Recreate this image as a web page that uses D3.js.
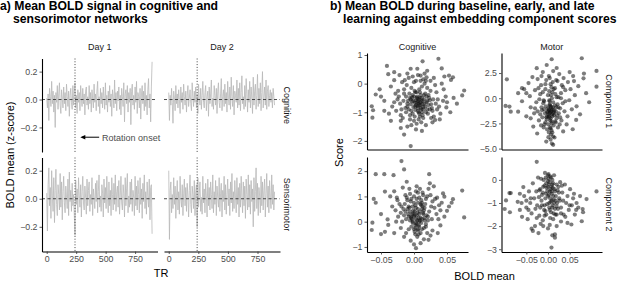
<!DOCTYPE html>
<html>
<head>
<meta charset="utf-8">
<script src="https://cdn.jsdelivr.net/npm/d3@7"></script>
<style>
  body { margin: 0; background: #fff; }
  text { font-family: "Liberation Sans", Arial, sans-serif; }
</style>
</head>
<body>
<svg width="617" height="286"></svg>
<script>
// ---- panel a data: mean BOLD per TR (read every 6 TR) ----
const trStep = 6
const cogDay1 = [0.01,-0.06,0.04,-0.15,0.08,0.02,-0.05,0.13,-0.03,0.06,-0.09,0.03,-0.2,0.05,-0.02,0.1,-0.07,0.04,0.12,-0.04,
  -0.1,0.07,0.01,-0.06,0.09,-0.03,0.05,-0.08,0.11,0.02,-0.05,0.06,-0.12,0.03,0.08,-0.02,-0.07,0.1,-0.04,0.05,
  0.12,-0.06,0.03,-0.1,0.07,-0.02,0.05,-0.08,0.1,0.01,-0.05,0.08,-0.03,0.04,-0.11,0.06,0.09,-0.04,0.02,-0.07,
  0.1,-0.03,0.05,-0.09,0.07,0.0,-0.06,0.11,-0.02,0.04,-0.08,0.06,0.13,-0.05,0.02,-0.1,0.08,-0.03,0.05,-0.06,
  0.09,0.01,-0.07,0.12,-0.04,0.03,-0.09,0.06,-0.02,0.1,-0.05,0.04,-0.12,0.07,0.02,-0.06,0.14,-0.03,0.05,-0.08,
  0.06,-0.01,0.09,-0.07,0.03,-0.11,0.08,0.02,-0.05,0.12,-0.16,0.04,0.07,-0.03,0.1,-0.09,0.05,-0.02,0.08,-0.18,
  0.06,0.11,-0.04,0.03,-0.07,0.09,-0.02,0.13,-0.1,0.05,0.02,-0.06,0.08,-0.14,0.04,0.1,-0.03,0.06,-0.08,0.12,
  -0.05,0.03,-0.11,0.07,0.15,-0.06,0.04,-0.16,0.09,0.27]
const cogDay2 = [0.05,-0.15,0.03,-0.04,0.08,-0.02,-0.17,0.06,0.01,-0.08,0.1,-0.03,0.04,-0.06,0.07,0.0,-0.1,0.09,-0.02,0.05,
  -0.07,0.11,0.02,-0.04,0.06,-0.09,0.03,0.1,-0.05,0.01,0.07,-0.03,-0.08,0.12,0.02,-0.05,0.06,-0.02,0.09,-0.06,
  0.04,-0.1,0.11,0.0,-0.04,0.08,-0.07,0.03,0.13,-0.02,-0.06,0.05,0.1,-0.08,0.02,0.06,-0.12,0.09,-0.03,0.04,
  0.14,-0.05,0.01,-0.07,0.1,0.03,-0.04,0.08,-0.1,0.06,0.12,-0.02,-0.06,0.04,0.15,-0.08,0.02,0.07,-0.05,0.11,
  -0.03,0.05,-0.09,0.13,0.01,-0.04,0.09,-0.07,0.16,0.02,-0.05,0.1,-0.11,0.06,0.03,-0.02,0.14,-0.06,0.08,-0.04,
  0.12,-0.08,0.05,0.17,-0.03,0.02,-0.07,0.1,-0.05,0.15,0.04,-0.09,0.07,-0.02,0.13,-0.06,0.09,0.01,-0.1,0.16,
  -0.04,0.06,0.11,-0.07,0.03,0.18,-0.05,0.08,-0.03,0.12,-0.08,0.05,0.2,-0.06,0.02,0.09,-0.04,0.14,-0.07,0.06,
  0.1,-0.05,0.03,0.07,-0.02,0.05,-0.06,0.08,0.02,-0.04]
const smDay1 = [0.04,-0.23,0.1,0.22,-0.05,0.08,-0.14,0.2,0.02,-0.09,0.15,-0.17,0.06,0.21,-0.04,-0.12,0.1,0.03,-0.08,0.18,
  -0.06,0.12,-0.15,0.05,0.16,-0.03,-0.1,0.09,0.01,-0.07,0.14,-0.12,0.19,-0.02,0.06,-0.09,0.11,-0.05,0.03,-0.11,
  -0.26,0.13,-0.04,0.07,-0.1,0.15,0.02,-0.06,0.1,-0.13,0.05,0.16,-0.03,-0.08,0.09,0.01,-0.11,0.14,-0.05,0.06,
  0.12,-0.09,0.03,-0.04,0.15,-0.12,0.07,0.01,-0.07,0.11,-0.02,0.13,-0.1,0.05,0.17,-0.06,0.02,-0.09,0.1,0.04,
  -0.13,0.14,-0.03,0.08,-0.07,0.16,0.0,-0.1,0.12,-0.05,0.06,-0.12,0.15,0.03,-0.08,0.11,-0.04,0.17,-0.09,0.05,
  0.09,-0.06,0.13,-0.11,0.02,0.16,-0.03,-0.08,0.1,0.04,-0.13,0.15,-0.05,0.07,0.18,-0.1,0.02,-0.06,0.12,-0.04,
  0.14,-0.09,0.06,0.01,-0.12,0.16,-0.05,0.09,-0.08,0.13,0.03,-0.1,0.15,-0.04,0.07,-0.14,0.11,-0.02,0.17,-0.07,
  0.05,-0.11,0.12,0.02,-0.06,0.14,-0.15,0.08,0.1,-0.25]
const smDay2 = [0.2,-0.29,0.06,0.12,-0.1,0.03,-0.07,0.15,-0.04,0.09,-0.14,0.02,0.13,-0.08,0.05,-0.11,0.16,0.0,-0.06,0.1,
  -0.12,0.04,0.14,-0.05,0.08,-0.09,0.11,0.02,-0.13,0.06,0.17,-0.04,-0.1,0.09,0.03,-0.07,0.13,-0.12,0.05,0.1,
  -0.2,0.15,-0.06,0.04,0.12,-0.09,0.01,-0.11,0.16,-0.03,0.07,-0.1,0.11,0.02,-0.13,0.14,-0.05,0.08,-0.08,0.12,
  0.03,-0.07,0.17,-0.1,0.05,-0.04,0.13,-0.12,0.09,0.01,-0.06,0.15,-0.09,0.04,0.11,-0.13,0.06,-0.02,0.16,-0.08,
  0.1,-0.11,0.03,0.14,-0.05,0.07,-0.12,0.12,-0.03,0.18,-0.09,0.05,-0.07,0.13,0.02,-0.1,0.15,-0.04,0.08,-0.13,
  0.11,-0.06,0.16,0.01,-0.1,0.12,-0.05,0.09,-0.14,0.14,0.03,-0.08,0.17,-0.06,0.1,-0.11,0.13,-0.02,0.07,-0.2,
  0.15,-0.09,0.05,0.22,-0.07,0.11,-0.12,0.08,0.02,-0.1,0.16,-0.05,0.12,-0.08,0.06,0.14,-0.13,0.04,0.18,-0.06,
  0.09,-0.1,0.13,0.01,-0.07,0.17,-0.04,0.1,-0.08,0.05]

const days = ["Day 1", "Day 2"]
const networks = ["Cognitive", "Sensorimotor"]
const trTicks = [0, 250, 500, 750]
const boldTicks = [-0.2, 0, 0.2]
const onsetTR = 240

// ---- panel b data: [BOLD mean, score] ----
const scatterCols = ["Cognitive", "Motor"]
const scatterRows = ["Component 1", "Component 2"]
const cogComp1 = [[0.037,0.87],[0.013,0.78],[-0.041,0.62],[-0.005,0.52],[0.005,0.52],[0.042,0.53],[-0.039,0.33],[0.059,0.22],[0.056,0.13],[0.076,-0.24],[0.073,-0.41],[-0.064,-0.79],[-0.062,-0.93],[-0.063,-1.19],[-0.058,-0.38],[-0.005,-2.18],[-0.015,-1.78],[0.003,-1.6],[0.028,-1.35],[0.032,-1.27],[0.049,-0.83],
  [-0.05,-0.45],[-0.045,-0.6],[-0.052,-0.2],[-0.035,-0.1],[-0.03,0.12],[-0.028,-0.35],[-0.025,-0.55],[-0.033,-0.8],[-0.038,-1.05],[-0.02,-1.3],[-0.022,0.3],[-0.018,0.05],[-0.015,-0.2],[-0.012,-0.45],[-0.01,-0.7],[-0.008,-0.9],[-0.006,-1.1],[-0.004,-1.45],[-0.002,0.25],[0.0,0.05],[0.002,-0.3],[0.004,-0.5],[0.006,-0.62],[0.008,-0.75],[0.01,-0.85],[0.012,-1.0],[0.014,-1.2],[0.016,0.35],[0.018,0.1],[0.02,-0.15],[0.022,-0.4],[0.024,-0.58],[0.026,-0.72],[0.028,-0.95],[0.03,0.2],[0.032,-0.05],[0.034,-0.3],[0.036,-0.55],[0.038,-0.8],[0.04,-1.05],[0.042,0.0],[0.045,-0.2],[0.048,-0.45],[0.05,-0.65],[0.053,0.28],[0.055,-1.0],[0.06,-0.5],[0.065,-0.7],
  [-0.005,-0.55],[-0.003,-0.62],[0.001,-0.68],[0.003,-0.58],[0.007,-0.7],[0.009,-0.5],[0.011,-0.63],[0.005,-0.78],[-0.001,-0.82],[0.013,-0.72],[0.002,-0.92],[0.006,-0.95],[0.01,-0.4],[0.015,-0.55],[-0.007,-0.35],[-0.009,-0.6],[0.017,-0.8],[0.019,-0.65],[0.0,-0.45],[0.004,-0.3],[0.008,-0.2],[-0.004,-0.15],[0.012,-0.1],[-0.011,-0.05],[0.016,0.0],[0.02,-0.9],[-0.013,-0.85],[-0.016,-0.6],[0.023,-0.5],[0.021,-1.05],[-0.002,-1.05],[0.009,-1.15],[-0.006,-1.25],[0.011,-1.35],[0.004,-1.4],[0.018,-1.45],[-0.01,-1.5],[0.007,-1.25],[-0.019,-0.9],[-0.021,-0.7],[0.025,-0.25],[0.027,-0.85],[-0.024,-0.25],[0.014,0.15],[-0.008,0.2],[0.003,0.1],[0.019,0.22],[-0.014,0.12],[0.006,0.3],[-0.02,-1.1],[0.03,-1.15],[0.035,-0.9],[-0.03,-0.65],[-0.027,-0.95],[0.01,0.28],[0.001,-0.25],[-0.005,-0.72],[0.014,-0.9],[0.008,-1.05],[-0.002,-0.4],
  [0.002,-0.8],[0.006,-0.85],[0.01,-0.75],[0.013,-0.6],[0.008,-0.55],[0.004,-0.65],[-0.001,-0.6],[0.016,-0.7],[0.011,-0.9],[0.007,-1.0],[0.003,-0.75],[-0.004,-0.95],[0.018,-1.0],[0.015,-0.4],[0.009,-0.3],[0.005,-0.45],[-0.006,-0.5],[0.012,-0.5],[0.02,-0.6],[0.022,-0.75],[-0.01,-0.8],[-0.012,-1.0],[0.001,-1.15],[0.013,-1.1],[0.017,-0.35],[0.024,-0.9],[-0.015,-0.35],[0.0,-1.3],[0.026,-1.2],[-0.017,-1.2],[0.009,-0.65],[0.006,-0.52],[0.014,-0.82],[-0.003,-0.48],[0.019,-0.45],[0.029,-0.55],[-0.023,-0.45],[0.033,-0.7],[0.01,0.1],[0.025,0.1],[-0.01,0.35],[0.02,0.45],[-0.03,0.4],[0.046,0.25],[-0.045,-0.95],[0.044,-0.6],[0.039,-1.25],[-0.035,-1.3],[0.012,-1.65],[-0.02,-1.55]]
const cogComp2 = [[-0.019,2.4],[-0.058,1.88],[-0.045,1.88],[-0.031,1.84],[-0.015,2.07],[0.023,1.88],[0.073,1.23],[0.076,0.17],[-0.061,0.9],[-0.058,0.75],[-0.044,1.19],[-0.063,-0.04],[-0.064,-0.33],[-0.05,-0.49],[-0.044,-0.4],[-0.04,0.09],[-0.039,-0.13],[0.003,-1.05],[0.0,-0.9],[0.022,-0.72],[0.05,0.43],[0.059,0.89],[0.057,0.75],[0.044,1.12],[0.046,0.99],[0.024,1.52],[-0.011,1.58],
  [-0.03,1.2],[-0.026,0.95],[-0.022,0.7],[-0.028,0.45],[-0.033,0.6],[-0.024,0.2],[-0.02,-0.25],[-0.017,1.35],[-0.013,1.05],[-0.01,0.85],[-0.008,0.6],[-0.006,0.4],[-0.004,0.15],[-0.002,-0.05],[0.0,-0.3],[0.002,-0.5],[0.004,1.4],[0.006,1.15],[0.008,0.95],[0.01,0.7],[0.012,0.5],[0.014,0.3],[0.016,0.05],[0.018,-0.2],[0.02,-0.45],[0.022,1.3],[0.025,1.05],[0.028,0.8],[0.031,0.55],[0.034,0.3],[0.037,0.1],[0.04,-0.15],[0.03,1.4],[0.035,0.95],[0.038,0.65],[0.042,0.75],[0.046,0.2],[0.025,-0.55],[0.028,-0.35],[-0.015,-0.6],[-0.012,-0.45],[0.015,-0.7],[0.01,-0.85],[-0.005,-0.75],[0.005,-0.6],
  [-0.005,0.2],[-0.003,0.3],[0.001,0.25],[0.003,0.1],[0.005,0.35],[0.007,0.15],[0.009,0.05],[-0.001,0.45],[-0.007,0.55],[0.002,0.65],[0.006,0.75],[-0.004,0.9],[0.011,0.85],[0.013,0.6],[-0.009,0.3],[-0.012,0.1],[0.004,-0.1],[0.008,-0.2],[0.006,-0.35],[0.002,-0.15],[-0.002,0.0],[0.012,-0.3],[0.015,0.45],[0.017,0.7],[-0.014,0.7],[-0.016,0.5],[0.019,0.25],[0.021,0.05],[-0.018,0.0],[0.0,1.0],[0.003,1.2],[-0.006,1.1],[0.009,1.3],[0.014,1.05],[-0.011,0.95],[0.018,0.9],[0.001,-0.4],[0.007,-0.5],[-0.008,-0.3],[0.011,-0.05],[0.016,0.15],[-0.02,0.35],[0.023,0.4],[0.026,0.6],[-0.025,0.85],
  [0.0,0.2],[0.004,0.25],[0.008,0.3],[-0.003,0.1],[0.001,0.4],[0.006,0.5],[0.01,0.15],[-0.006,0.05],[0.003,-0.05],[0.007,-0.15],[0.012,0.1],[-0.002,0.6],[0.005,0.05],[0.009,0.4],[-0.008,0.2],[0.014,0.35],[0.002,-0.25],[0.006,-0.3],[0.01,-0.45],[-0.004,-0.2],[0.0,0.75],[0.011,0.65],[-0.01,0.5],[0.016,0.55],[-0.013,0.4],[0.018,-0.1],[0.004,0.9],[-0.005,0.8],[0.013,1.15],[-0.007,1.3],[0.02,1.0],[0.008,0.0],[0.003,0.55],[-0.001,0.32],[0.012,0.75],[-0.015,0.25],[0.015,-0.25],[0.021,0.2],[-0.019,0.6],[0.027,0.1],[-0.027,0.0],[0.032,0.9],[-0.036,1.0],[0.04,0.45],[-0.05,0.3],[0.053,0.6],[0.036,-0.45],[-0.03,-0.45]]
const motComp1 = [[0.0085,3.87],[0.078,3.97],[0.112,2.71],[-0.095,1.88],[-0.026,2.98],[-0.003,3.3],[-0.098,-0.76],[-0.089,-0.83],[-0.086,-1.33],[-0.069,-1.33],[0.012,-4.63],[0.001,-3.87],[0.082,1.98],[0.083,2.45],[0.112,1.15],[0.065,-2.15],[0.057,-3.08],[-0.034,-2.81],[-0.069,0.5],
  [-0.06,-0.3],[-0.055,0.9],[-0.05,-1.8],[-0.045,1.5],[-0.042,0.2],[-0.04,-0.9],[-0.036,2.1],[-0.032,-1.5],[-0.03,0.8],[-0.027,-0.4],[-0.024,1.9],[-0.021,-2.2],[-0.018,0.4],[-0.016,1.3],[-0.014,-1.2],[-0.012,2.6],[-0.01,-0.2],[-0.008,-2.6],[-0.006,0.9],[-0.004,1.8],[-0.002,-1.8],[0.0,0.3],[0.002,2.2],[0.004,-0.7],[0.006,1.4],[0.008,-3.2],[0.01,0.6],[0.012,2.7],[0.014,-1.4],[0.016,1.0],[0.018,-2.4],[0.02,0.1],[0.022,1.7],[0.024,-0.9],[0.026,2.4],[0.028,-1.9],[0.03,0.5],[0.032,1.3],[0.034,-0.5],[0.036,2.0],[0.038,-1.3],[0.04,0.8],[0.043,-2.6],[0.046,1.6],[0.049,-0.2],[0.052,0.9],[0.055,-1.1],[0.058,2.2],[0.062,0.3],[0.066,-0.8],[0.07,1.2],[0.074,-1.6],[0.088,0.5],[0.095,-0.4],
  [0.0,-1.0],[0.003,-1.2],[0.005,-1.4],[0.007,-0.9],[0.009,-1.6],[0.002,-1.8],[-0.001,-1.3],[0.006,-2.0],[0.011,-1.1],[0.004,-0.6],[0.008,-2.3],[-0.003,-2.1],[0.001,-2.6],[0.005,-2.9],[0.01,-3.4],[-0.002,-3.1],[0.007,-3.6],[0.012,-0.4],[-0.005,-0.8],[0.014,-1.7],[-0.007,-1.5],[0.016,-0.7],[0.003,-0.2],[-0.009,-1.1],[0.018,-1.3],[0.009,0.0],[-0.011,-0.5],[0.02,-2.0],[0.013,-2.7],[-0.013,-1.9],[0.006,-4.1],[0.015,-3.9],[-0.004,-4.3],[0.022,-0.6],[-0.015,-0.9],[0.025,-1.5],[0.017,0.4],[-0.018,-1.6],[0.003,0.7],[0.008,1.1],[-0.006,1.4],[0.011,1.6],[0.004,2.0],[0.019,1.8],[-0.02,-0.1],[0.028,-1.0],[-0.024,-1.3],[0.031,-2.2],[0.023,-2.9],[-0.01,-2.9],
  [0.004,-1.5],[0.007,-1.3],[0.01,-1.8],[0.002,-1.1],[0.006,-0.8],[0.012,-1.5],[0.001,-1.6],[0.008,-1.2],[0.005,-2.2],[0.011,-0.9],[0.003,-1.9],[0.009,-2.5],[-0.002,-1.4],[0.014,-1.2],[0.006,-3.0],[0.002,-3.4],[0.012,-3.8],[0.009,-4.5],[0.004,-0.3],[0.016,-2.3],[-0.004,-1.9],[0.019,-0.9],[-0.006,-2.4],[0.021,-1.7],[-0.009,-0.3],[0.007,0.3],[0.013,0.9],[-0.012,0.6],[0.024,0.1],[-0.016,-2.7],[0.027,-2.6],[0.03,0.0],[-0.022,1.0],[0.035,1.1],[-0.03,-1.0],[0.04,-0.3],[-0.04,-2.0],[0.045,-1.8],[0.05,2.6],[-0.05,0.5],[0.06,1.7],[-0.06,1.0],[0.02,3.0],[-0.015,2.2],[0.035,-3.3],[-0.025,-3.5]]
const motComp2 = [[-0.026,0.78],[0.112,-0.5],[-0.089,-0.57],[-0.086,-0.57],[-0.097,-0.89],[-0.1,-1.26],[-0.088,-1.4],[-0.038,-2.11],[-0.035,-2.21],[0.008,-2.93],[0.016,-2.36],[0.016,-2.5],[0.089,-0.83],[0.08,-1.26],[0.081,-1.4],[0.078,-1.79],[0.045,-1.86],[0.054,-1.93],[-0.061,-1.0],[-0.057,-0.31],
  [-0.07,-0.95],[-0.065,-1.3],[-0.06,-1.6],[-0.055,-0.7],[-0.05,-1.2],[-0.047,-1.7],[-0.044,-0.5],[-0.041,-1.0],[-0.038,-1.45],[-0.035,-0.15],[-0.032,-0.8],[-0.029,-1.25],[-0.026,-1.65],[-0.023,0.1],[-0.02,-0.45],[-0.017,-1.9],[-0.014,-1.1],[-0.011,-2.0],[-0.008,-1.55],[0.0,-2.1],[0.004,-1.95],[0.012,-1.7],[0.02,-1.5],[0.024,-0.3],[0.027,-0.9],[0.03,-1.2],[0.033,-0.55],[0.036,-1.5],[0.039,-0.2],[0.042,-1.0],[0.045,-0.7],[0.048,-1.3],[0.051,-0.4],[0.055,-1.1],[0.058,-0.8],[0.062,-1.5],[0.066,-1.0],[0.07,-1.2],[0.074,-0.7],[0.02,-2.0],[0.03,-1.8],[-0.03,-2.0],[-0.022,-2.3],[0.01,-2.4],[0.0,0.2],
  [-0.01,0.0],[-0.005,0.1],[0.0,-0.05],[0.005,0.15],[0.01,0.0],[0.002,-0.2],[0.008,-0.3],[-0.003,-0.35],[0.012,-0.15],[-0.008,-0.25],[0.015,-0.4],[0.004,-0.5],[-0.012,-0.55],[0.009,-0.6],[0.0,-0.7],[-0.006,-0.8],[0.013,-0.85],[0.006,-0.95],[-0.002,-1.05],[0.011,-1.1],[0.018,-0.7],[-0.015,-0.9],[0.003,-1.2],[-0.009,-1.3],[0.016,-1.25],[0.007,-1.4],[-0.004,-1.5],[0.021,-1.0],[-0.018,-0.4],[0.02,-0.2],[-0.016,0.05],[0.025,-0.55],[-0.021,-0.75],[0.001,0.25],[-0.007,0.3],[0.014,0.2],[0.005,-1.65],[-0.012,-1.75],[0.017,-1.5],[0.023,-1.25],[0.028,-0.1],[-0.025,-1.1],
  [0.0,-0.3],[0.004,-0.1],[0.008,-0.5],[0.002,-0.65],[0.006,-0.4],[0.01,-0.2],[-0.002,-0.5],[0.012,-0.7],[0.005,-0.8],[-0.005,-0.6],[0.009,-0.9],[0.003,-1.0],[0.014,-1.0],[-0.008,-1.1],[0.001,0.05],[0.007,0.1],[-0.004,-0.15],[0.016,-0.5],[0.011,-0.35],[0.018,-0.9],[-0.011,-0.3],[0.004,-1.3],[0.013,-1.45],[-0.006,-1.35],[0.02,-1.15],[-0.014,-0.65],[0.022,-0.45],[0.01,-1.2],[0.026,-0.8],[-0.018,-1.2],[0.03,-1.45],[-0.027,-0.5],[0.035,-0.9],[-0.04,-0.8],[0.04,-1.6],[-0.045,-1.3],[0.05,-1.1],[-0.05,-0.9],[0.06,-0.6],[-0.065,-0.6],[0.065,-1.3],[0.032,-0.25],[-0.02,-1.55]]

const boldMeanTicks = [-0.05, 0, 0.05]
const scoreTicks = [[-2,-1,0,1], [-5,-2.5,0,2.5], [-1,0,1,2], [-3,-2,-1,0]]

const svg = d3.select("svg")
const tickCol = "#4d4d4d"

function styleAxis(g) {
  g.select(".domain").attr("stroke", "#000").attr("stroke-width", 1.1)
  g.selectAll(".tick line").attr("stroke", "#333").attr("stroke-width", 0.8)
  g.selectAll(".tick text").attr("fill", tickCol).attr("font-size", 8.8)
    .attr("font-family", "Liberation Sans, Arial, sans-serif")
}

function title(x, y, lines, indent) {
  const t = svg.append("text").attr("font-weight", "bold").attr("font-size", 12.2).attr("fill", "#000")
  lines.forEach((l, i) => {
    t.append("tspan").attr("x", i ? x + indent : x).attr("y", y + i * 13).text(l)
  })
}

// ================= panel a =================
title(0, 10, ["a) Mean BOLD signal in cognitive and", "sensorimotor networks"], 13)

const aCols = [[42, 157.5], [164, 280]]
const aRows = [[58.5, 152], [157.5, 251.5]]
const series = [[cogDay1, cogDay2], [smDay1, smDay2]]

days.forEach((d, c) => {
  svg.append("text").attr("x", (aCols[c][0] + aCols[c][1]) / 2).attr("y", 50)
    .attr("text-anchor", "middle").attr("font-size", 9).attr("fill", "#1a1a1a").text(d)
})
networks.forEach((n, r) => {
  const cy = (aRows[r][0] + aRows[r][1]) / 2
  svg.append("text").attr("transform", `translate(284,${cy}) rotate(90)`)
    .attr("text-anchor", "middle").attr("font-size", 9).attr("fill", "#1a1a1a").text(n)
})

networks.forEach((n, r) => {
  days.forEach((d, c) => {
    const x = d3.scaleLinear().domain([-40, 940]).range(aCols[c])
    const y = d3.scaleLinear().domain([-0.376, 0.294]).range([aRows[r][1], aRows[r][0]])
    const g = svg.append("g")
    const vals = series[r][c]

    g.append("path").datum(vals)
      .attr("fill", "none").attr("stroke", "#b8b8b8").attr("stroke-width", 0.8)
      .attr("d", d3.line().x((v, i) => x(i * trStep)).y(v => y(v)))

    g.append("line").attr("x1", aCols[c][0]).attr("x2", aCols[c][1])
      .attr("y1", y(0)).attr("y2", y(0))
      .attr("stroke", "#222").attr("stroke-width", 0.8).attr("stroke-dasharray", "3,2.5")

    g.append("line").attr("x1", x(onsetTR)).attr("x2", x(onsetTR))
      .attr("y1", aRows[r][0]).attr("y2", aRows[r][1])
      .attr("stroke", "#444").attr("stroke-width", 1).attr("stroke-dasharray", "1,1.8")

    if (r == 0 && c == 0) {
      const ay = y(-0.27)
      g.append("line").attr("x1", x(445)).attr("x2", x(300)).attr("y1", ay).attr("y2", ay)
        .attr("stroke", "#000").attr("stroke-width", 1)
      g.append("path").attr("d", `M${x(285)},${ay} l5,-2.2 l0,4.4 z`).attr("fill", "#000")
      g.append("text").attr("x", x(470)).attr("y", ay + 3.3).attr("font-size", 9)
        .attr("fill", "#4d4d4d").text("Rotation onset")
    }

    if (c == 0) {
      g.append("g").attr("transform", `translate(${aCols[c][0]},0)`)
        .call(d3.axisLeft(y).tickValues(boldTicks).tickFormat(d3.format(".1f")).tickSize(2.5).tickSizeOuter(0).tickPadding(2))
        .call(styleAxis)
    }
    if (r == 1) {
      g.append("g").attr("transform", `translate(0,${aRows[r][1]})`)
        .call(d3.axisBottom(x).tickValues(trTicks).tickSize(2.5).tickSizeOuter(0).tickPadding(2))
        .call(styleAxis)
    }
  })
})

svg.append("text").attr("x", 161).attr("y", 277).attr("text-anchor", "middle")
  .attr("font-size", 11).text("TR")
svg.append("text").attr("transform", "translate(14,155) rotate(-90)").attr("text-anchor", "middle")
  .attr("font-size", 11).text("BOLD mean (z-score)")

// ================= panel b =================
title(330, 10, ["b) Mean BOLD during baseline, early, and late", "learning against embedding component scores"], 13)

const bCols = [[367, 468], [501.5, 602]]
const bRows = [[53, 149.5], [157, 252]]
const xDomains = [[-0.0712, 0.0818], [-0.1074, 0.1247]]
const yDomains = [[[-2.3, 1.07], [-5.09, 4.49]], [[-1.2, 2.56], [-3.12, 0.99]]]
const points = [[cogComp1, motComp1], [cogComp2, motComp2]]

scatterCols.forEach((s, c) => {
  svg.append("text").attr("x", (bCols[c][0] + bCols[c][1]) / 2).attr("y", 50)
    .attr("text-anchor", "middle").attr("font-size", 9).attr("fill", "#1a1a1a").text(s)
})
scatterRows.forEach((s, r) => {
  const cy = (bRows[r][0] + bRows[r][1]) / 2
  svg.append("text").attr("transform", `translate(606,${cy}) rotate(90)`)
    .attr("text-anchor", "middle").attr("font-size", 9).attr("fill", "#1a1a1a").text(s)
})

scatterRows.forEach((s, r) => {
  scatterCols.forEach((sc, c) => {
    const x = d3.scaleLinear().domain(xDomains[c]).range(bCols[c])
    const y = d3.scaleLinear().domain(yDomains[r][c]).range([bRows[r][1], bRows[r][0]])
    const g = svg.append("g")

    g.selectAll("circle").data(points[r][c]).enter().append("circle")
      .attr("cx", d => x(d[0])).attr("cy", d => y(d[1])).attr("r", 2.1)
      .attr("fill", "#111").attr("fill-opacity", 0.55)

    const ticks = scoreTicks[r * 2 + c]
    const fmt = c == 1 && r == 0 ? d3.format(".1f") : d3.format("d")
    g.append("g").attr("transform", `translate(${bCols[c][0]},0)`)
      .call(d3.axisLeft(y).tickValues(ticks).tickFormat(fmt).tickSize(2.5).tickSizeOuter(0).tickPadding(2))
      .call(styleAxis)

    const xa = g.append("g").attr("transform", `translate(0,${bRows[r][1]})`)
      .call(d3.axisBottom(x).tickValues(boldMeanTicks).tickFormat(d3.format(".2f")).tickSize(r == 1 ? 2.5 : 0).tickSizeOuter(0).tickPadding(2))
      .call(styleAxis)
    if (r == 0) xa.selectAll(".tick").remove()
  })
})

svg.append("text").attr("x", 484.5).attr("y", 280).attr("text-anchor", "middle")
  .attr("font-size", 11).text("BOLD mean")
svg.append("text").attr("transform", "translate(343,152.5) rotate(-90)").attr("text-anchor", "middle")
  .attr("font-size", 11).text("Score")
</script>
</body>
</html>
